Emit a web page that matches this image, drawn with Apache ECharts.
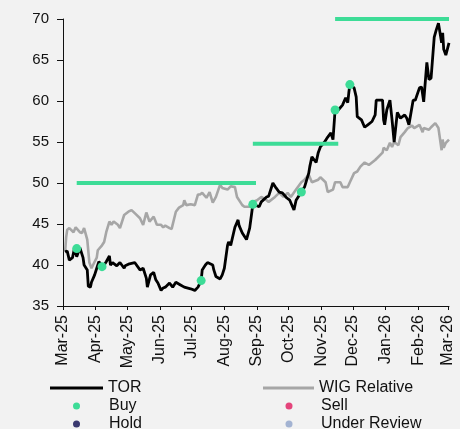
<!DOCTYPE html>
<html>
<head>
<meta charset="utf-8">
<script src="https://cdn.jsdelivr.net/npm/echarts@6/dist/echarts.min.js"></script>
<style>
  html, body { margin: 0; padding: 0; background: #f2f2f2; }
  #chart { width: 460px; height: 429px; }
</style>
</head>
<body>
<div id="chart"></div>
<script>
// Tick labels on the date axis
var monthDates = ['2025-03-01', '2025-04-01', '2025-05-01', '2025-06-01', '2025-07-01', '2025-08-01',
  '2025-09-01', '2025-10-01', '2025-11-01', '2025-12-01', '2026-01-01', '2026-02-01', '2026-03-01'];
var monthLabels = ['Mar-25', 'Apr-25', 'May-25', 'Jun-25', 'Jul-25', 'Aug-25',
  'Sep-25', 'Oct-25', 'Nov-25', 'Dec-25', 'Jan-26', 'Feb-26', 'Mar-26'];

// TOR share price
var torData = [
  ['2025-03-03', 41.6], ['2025-03-05', 41.7], ['2025-03-07', 40.6], ['2025-03-10', 40.9], ['2025-03-12', 42.1],
  ['2025-03-14', 41.0], ['2025-03-17', 42.1], ['2025-03-20', 40.9], ['2025-03-21', 40.0], ['2025-03-24', 39.4],
  ['2025-03-25', 37.4], ['2025-03-27', 37.3], ['2025-03-28', 37.9], ['2025-03-31', 38.8], ['2025-04-02', 39.6],
  ['2025-04-04', 40.4], ['2025-04-07', 39.9], ['2025-04-09', 40.0], ['2025-04-11', 40.4], ['2025-04-14', 41.1],
  ['2025-04-15', 40.0], ['2025-04-17', 40.3], ['2025-04-21', 39.9], ['2025-04-24', 40.3], ['2025-04-28', 39.6],
  ['2025-04-29', 39.9], ['2025-05-02', 40.1], ['2025-05-08', 40.3], ['2025-05-13', 39.4], ['2025-05-16', 39.6],
  ['2025-05-19', 38.4], ['2025-05-20', 37.3], ['2025-05-23', 38.8], ['2025-05-26', 39.1], ['2025-05-28', 38.2],
  ['2025-05-30', 37.8], ['2025-06-02', 36.9], ['2025-06-04', 37.2], ['2025-06-06', 37.3], ['2025-06-10', 37.8],
  ['2025-06-13', 37.3], ['2025-06-16', 37.9], ['2025-06-20', 37.6], ['2025-06-24', 37.3], ['2025-06-30', 37.1],
  ['2025-07-04', 36.9], ['2025-07-07', 37.3], ['2025-07-10', 38.1], ['2025-07-11', 39.4], ['2025-07-14', 40.0],
  ['2025-07-16', 40.3], ['2025-07-21', 40.0], ['2025-07-22', 39.4], ['2025-07-24', 38.6], ['2025-07-28', 38.3],
  ['2025-07-30', 38.8], ['2025-08-01', 39.6], ['2025-08-04', 42.4], ['2025-08-05', 42.8], ['2025-08-07', 42.4],
  ['2025-08-11', 44.6], ['2025-08-14', 45.5], ['2025-08-15', 44.8], ['2025-08-18', 43.9], ['2025-08-22', 43.1],
  ['2025-08-25', 44.5], ['2025-08-27', 46.4], ['2025-08-28', 47.4], ['2025-09-03', 47.1], ['2025-09-05', 47.7],
  ['2025-09-10', 48.3], ['2025-09-12', 48.4], ['2025-09-16', 50.0], ['2025-09-19', 49.4], ['2025-09-22', 48.9],
  ['2025-09-25', 48.8], ['2025-09-29', 48.2], ['2025-10-02', 47.9], ['2025-10-06', 46.7], ['2025-10-08', 47.9],
  ['2025-10-13', 48.9], ['2025-10-16', 49.5], ['2025-10-20', 51.2], ['2025-10-21', 52.0], ['2025-10-23', 53.2],
  ['2025-10-27', 52.5], ['2025-10-29', 53.7], ['2025-10-31', 54.4], ['2025-11-04', 55.0], ['2025-11-07', 55.6],
  ['2025-11-10', 56.1], ['2025-11-12', 55.3], ['2025-11-14', 58.9], ['2025-11-17', 58.9], ['2025-11-18', 58.9],
  ['2025-11-21', 59.5], ['2025-11-24', 60.4], ['2025-11-26', 59.8], ['2025-11-27', 61.0], ['2025-11-28', 62.0],
  ['2025-12-02', 61.6], ['2025-12-04', 60.5], ['2025-12-05', 58.1], ['2025-12-09', 57.7], ['2025-12-12', 56.8],
  ['2025-12-15', 57.1], ['2025-12-19', 57.5], ['2025-12-22', 58.3], ['2025-12-23', 60.1], ['2025-12-29', 60.1],
  ['2025-12-30', 57.7], ['2025-12-31', 57.1], ['2026-01-02', 58.9], ['2026-01-05', 60.1], ['2026-01-07', 57.7],
  ['2026-01-09', 55.0], ['2026-01-12', 58.6], ['2026-01-15', 57.9], ['2026-01-19', 58.3], ['2026-01-21', 57.9],
  ['2026-01-23', 57.1], ['2026-01-27', 60.1], ['2026-01-29', 60.1], ['2026-02-02', 61.6], ['2026-02-04', 61.7],
  ['2026-02-06', 59.9], ['2026-02-09', 64.7], ['2026-02-11', 62.6], ['2026-02-13', 62.8], ['2026-02-16', 67.8],
  ['2026-02-18', 68.7], ['2026-02-20', 69.5], ['2026-02-23', 67.1], ['2026-02-24', 68.3], ['2026-02-25', 66.3],
  ['2026-02-27', 65.6], ['2026-03-02', 67.1]
];

// WIG index rebased to TOR
var wigData = [
  ['2025-03-03', 41.6], ['2025-03-04', 43.4], ['2025-03-05', 44.3], ['2025-03-07', 44.5], ['2025-03-11', 44.0],
  ['2025-03-13', 44.6], ['2025-03-17', 44.0], ['2025-03-19', 43.9], ['2025-03-21', 44.5], ['2025-03-24', 43.1],
  ['2025-03-26', 40.3], ['2025-03-28', 39.6], ['2025-03-31', 40.4], ['2025-04-02', 40.9], ['2025-04-03', 41.8],
  ['2025-04-07', 42.4], ['2025-04-09', 42.8], ['2025-04-11', 44.0], ['2025-04-14', 45.3], ['2025-04-16', 44.9],
  ['2025-04-18', 45.3], ['2025-04-22', 44.9], ['2025-04-24', 44.5], ['2025-04-28', 46.1], ['2025-05-02', 46.5],
  ['2025-05-05', 46.7], ['2025-05-09', 46.2], ['2025-05-13', 45.7], ['2025-05-16', 44.9], ['2025-05-19', 46.4],
  ['2025-05-22', 45.3], ['2025-05-26', 45.9], ['2025-05-29', 44.9], ['2025-06-02', 44.9], ['2025-06-04', 44.6],
  ['2025-06-06', 44.8], ['2025-06-10', 44.5], ['2025-06-12', 44.4], ['2025-06-16', 46.5], ['2025-06-19', 47.0],
  ['2025-06-23', 47.3], ['2025-06-24', 47.9], ['2025-06-26', 47.3], ['2025-06-30', 47.4], ['2025-07-04', 47.3],
  ['2025-07-07', 48.6], ['2025-07-09', 48.6], ['2025-07-11', 48.8], ['2025-07-15', 48.2], ['2025-07-18', 48.9],
  ['2025-07-21', 47.6], ['2025-07-24', 48.3], ['2025-07-28', 49.8], ['2025-07-30', 49.4], ['2025-08-04', 49.2],
  ['2025-08-07', 49.6], ['2025-08-11', 49.5], ['2025-08-13', 48.3], ['2025-08-18', 47.3], ['2025-08-20', 47.1],
  ['2025-08-25', 47.1], ['2025-08-26', 47.6], ['2025-08-28', 47.7], ['2025-09-01', 47.9], ['2025-09-05', 48.3],
  ['2025-09-10', 47.9], ['2025-09-12', 47.7], ['2025-09-18', 48.3], ['2025-09-22', 48.8], ['2025-09-26', 48.3],
  ['2025-09-30', 48.8], ['2025-10-03', 48.3], ['2025-10-08', 49.2], ['2025-10-13', 50.1], ['2025-10-16', 50.4],
  ['2025-10-20', 51.0], ['2025-10-23', 50.1], ['2025-10-29', 50.4], ['2025-10-31', 50.7], ['2025-11-05', 50.1],
  ['2025-11-07', 48.9], ['2025-11-12', 49.2], ['2025-11-14', 50.1], ['2025-11-19', 50.1], ['2025-11-21', 49.5],
  ['2025-11-26', 49.5], ['2025-11-28', 50.1], ['2025-12-02', 51.2], ['2025-12-05', 51.4], ['2025-12-08', 52.0],
  ['2025-12-12', 52.5], ['2025-12-16', 52.2], ['2025-12-19', 52.5], ['2025-12-22', 52.8], ['2025-12-29', 53.7],
  ['2025-12-30', 54.3], ['2026-01-02', 54.0], ['2026-01-05', 54.9], ['2026-01-07', 54.4], ['2026-01-09', 55.0],
  ['2026-01-13', 54.6], ['2026-01-15', 55.6], ['2026-01-19', 56.2], ['2026-01-22', 56.7], ['2026-01-26', 57.0],
  ['2026-01-28', 56.7], ['2026-02-02', 57.1], ['2026-02-05', 56.2], ['2026-02-06', 56.7], ['2026-02-11', 56.5],
  ['2026-02-13', 56.8], ['2026-02-17', 57.3], ['2026-02-20', 56.7], ['2026-02-23', 54.0], ['2026-02-24', 55.3],
  ['2026-02-25', 54.3], ['2026-02-27', 54.9], ['2026-03-02', 55.3]
];

// Buy recommendations
var buyData = [
  ['2025-03-14', 42.0], ['2025-04-07', 39.8], ['2025-07-10', 38.1], ['2025-08-28', 47.4],
  ['2025-10-13', 48.9], ['2025-11-14', 58.9], ['2025-11-28', 62.0]
];

// Target prices and the period each one was valid
var targetStart = ['2025-03-14', '2025-08-28', '2025-11-14'];
var targetEnd = ['2025-08-31', '2025-11-17', '2026-03-02'];
var targetPrice = [50, 54.8, 70];

function ts(s) { return Date.parse(s); }
function toPoints(arr) { return arr.map(function (p) { return [ts(p[0]), p[1]]; }); }

var targetData = [];
for (var i = 0; i < targetPrice.length; i++) {
  targetData.push([ts(targetStart[i]), targetPrice[i]]);
  targetData.push([ts(targetEnd[i]), targetPrice[i]]);
  targetData.push([ts(targetEnd[i]), null]);
}
var monthTicks = monthDates.map(ts);

var font = 'Liberation Sans, Arial, sans-serif';
var chart = echarts.init(document.getElementById('chart'));

// line entries: a flat bar icon; dot entries: small circle with text pushed right
function lineLegend(name, left, top, w) {
  return {
    data: [{ name: name, icon: 'rect' }], left: left, top: top, padding: 0,
    itemWidth: w, itemHeight: 3, selectedMode: false,
    textStyle: { fontFamily: font, fontSize: 16, color: '#111' }
  };
}
function dotLegend(name, left, top, pad) {
  return {
    data: [{ name: name, icon: 'circle' }], left: left, top: top, padding: 0,
    itemWidth: 7, itemHeight: 7, selectedMode: false,
    textStyle: { fontFamily: font, fontSize: 16, color: '#111', padding: [0, 0, 0, pad] }
  };
}

var option = {
  backgroundColor: '#f2f2f2',
  animation: false,
  grid: { left: 63, right: 11, top: 19, bottom: 123 },
  legend: [
    lineLegend('TOR', 50, 380, 53),
    lineLegend('WIG Relative', 263, 380, 51),
    dotLegend('Buy', 73, 398, 24),
    dotLegend('Sell', 285.5, 398, 23.5),
    dotLegend('Hold', 73, 416, 24),
    dotLegend('Under Review', 285.5, 416, 23.5)
  ],
  xAxis: {
    type: 'value',
    min: ts('2025-03-01'),
    max: ts('2026-03-02'),
    axisLine: { lineStyle: { color: '#111', width: 1 } },
    axisTick: { show: true, length: 4, lineStyle: { color: '#111' }, customValues: monthTicks },
    splitLine: { show: false },
    axisLabel: {
      customValues: monthTicks,
      rotate: 90,
      margin: 9,
      fontFamily: font,
      fontSize: 16,
      color: '#111',
      formatter: function (val) {
        var k = monthTicks.indexOf(val);
        return k >= 0 ? monthLabels[k] : '';
      }
    }
  },
  yAxis: {
    type: 'value',
    min: 35,
    max: 70,
    interval: 5,
    axisLine: { show: true, lineStyle: { color: '#111', width: 1 } },
    axisTick: { show: true, length: 6, lineStyle: { color: '#111' } },
    splitLine: { show: false },
    axisLabel: { fontFamily: font, fontSize: 15, color: '#111', margin: 14 }
  },
  series: [
    {
      name: 'WIG Relative', type: 'line', data: toPoints(wigData), symbol: 'none',
      lineStyle: { color: '#a6a6a6', width: 2.6 }, itemStyle: { color: '#a6a6a6' }
    },
    {
      name: 'TOR', type: 'line', data: toPoints(torData), symbol: 'none',
      lineStyle: { color: '#000', width: 2.8 }, itemStyle: { color: '#000' }
    },
    {
      name: 'Target', type: 'line', data: targetData, symbol: 'none', connectNulls: false,
      lineStyle: { color: '#3ddc97', width: 4 }, z: 3
    },
    {
      name: 'Buy', type: 'scatter', data: toPoints(buyData), symbol: 'circle', symbolSize: 9,
      itemStyle: { color: '#3ddc97', opacity: 1 }, z: 10
    },
    { name: 'Sell', type: 'scatter', data: [], itemStyle: { color: '#e0185c' } },
    { name: 'Hold', type: 'scatter', data: [], itemStyle: { color: '#0b0a4f' } },
    { name: 'Under Review', type: 'scatter', data: [], itemStyle: { color: '#8ea3c9' } }
  ]
};

chart.setOption(option);
</script>
</body>
</html>
